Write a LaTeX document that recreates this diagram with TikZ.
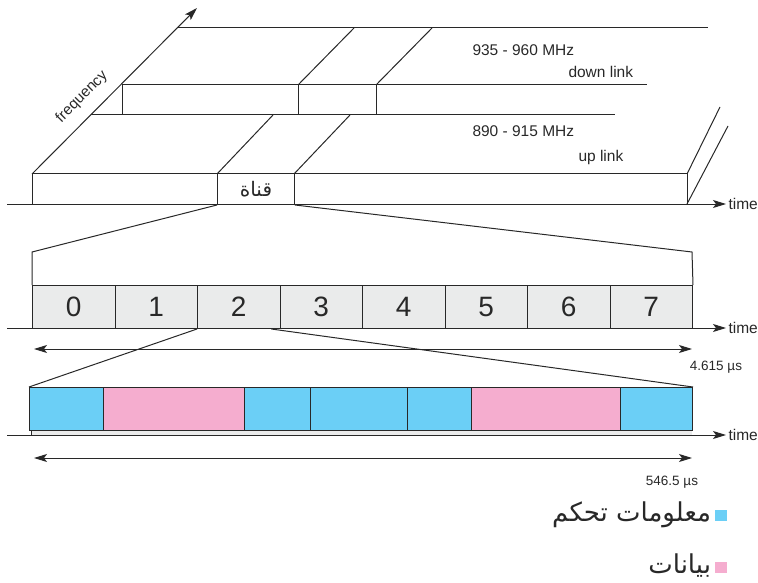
\documentclass[tikz,border=0pt]{standalone}
\definecolor{ctrlblue}{RGB}{107,207,246}
\definecolor{datapink}{RGB}{245,173,207}
\definecolor{slotgray}{RGB}{234,235,235}
\definecolor{linegray}{RGB}{40,40,40}
\usepackage{fontspec}
\setmainfont{Liberation Sans}
\newfontfamily\arabicfont[Script=Arabic]{DejaVu Sans}
\TeXXeTstate=1
\usepackage{tikz}
\usetikzlibrary{shapes,arrows,arrows.meta,positioning,calc}

\tikzset{
  bigtip/.style={-{Stealth[length=13pt,width=8pt,inset=3pt]}},
  twotip/.style={{Stealth[length=13pt,width=8pt,inset=3pt]}-{Stealth[length=13pt,width=8pt,inset=3pt]}},
  lbl/.style={font=\fontsize{15.5}{15.5}\selectfont, inner sep=0pt, anchor=west},
  smalllbl/.style={font=\fontsize{13.5}{13.5}\selectfont, inner sep=0pt},
  slot/.style={draw, fill=slotgray, minimum width=82.5pt, minimum height=43pt,
               inner sep=0pt, anchor=north west, font=\fontsize{28}{28}\selectfont},
  keybox/.style={minimum width=12pt, minimum height=11pt, inner sep=0pt},
  keytext/.style={anchor=base east, inner sep=0pt, font=\arabicfont\fontsize{26}{26}\selectfont}
}

\begin{document}
\begin{tikzpicture}[x=1pt, y=-1pt, line width=1pt, color=linegray]
  \useasboundingbox (0,0) rectangle (758,583);

  % frequency bands
  \draw (32,174) rectangle (687,204);
  \draw (91,115) -- (615,115);
  \draw (217,174) -- (217,204) (294,174) -- (294,204);
  \draw (217,174) -- (273,115) (294,174) -- (350,115);
  \draw (687,174) -- (720,107) (687,204) -- (728,126);
  \draw (122,115) -- (122,85) -- (647,85);
  \draw (298,85) -- (298,115) (376,85) -- (376,115);
  \draw (298,85) -- (354,28) (376,85) -- (432,28);
  \draw (178,28) -- (708,28);
  \node[lbl] (dlf) at (472,50) {935 - 960 MHz};
  \node[lbl] (dl) at (568,72) {down link};
  \node[lbl] (ulf) at (472,131) {890 - 915 MHz};
  \node[lbl] (ul) at (578,157) {up link};
  \node[minimum width=77pt, minimum height=30pt, inner sep=0pt, anchor=north west,
        font=\arabicfont\fontsize{20}{20}\selectfont] (ch) at (217,174) {\beginR قناة\endR};

  % frequency axis
  \coordinate (f0) at (32,174);
  \coordinate (f1) at (197,8);
  \draw[bigtip] (f0) -- (f1);
  \node[font=\fontsize{15}{15}\selectfont, rotate=45] (freq) at (82,97) {frequency};

  % time axes
  \foreach \y/\n in {204/a, 328/b, 435/c} {
    \coordinate (ax\n) at (7,\y);
    \coordinate (tip\n) at (726,\y);
    \draw[bigtip] (ax\n) -- (tip\n) node[right, inner sep=2pt, font=\fontsize{15.5}{15.5}\selectfont] {time};
  }

  % eight slots
  \foreach \i in {0,...,7}
    \node[slot] (s\i) at ({32+82.5*\i},285) {\i};
  \coordinate (fL) at (32,252);
  \coordinate (fR) at (692,252);
  \draw (ch.south west) -- (fL) -- (s0.north west);
  \draw (ch.south east) -- (fR) -- (s7.north east);

  \coordinate (d1a) at (34,349);
  \coordinate (d1b) at (692,349);
  \draw[twotip] (d1a) -- (d1b);
  \node[smalllbl] (t1) at (716,367) {4.615 µs};

  % burst
  \fill[slotgray] (31,430) rectangle (692,435);
  \draw (31,430) -- (31,435);
  \foreach \a/\b/\c in {29/103/ctrlblue, 103/244/datapink, 244/310/ctrlblue, 310/407/ctrlblue,
                        407/471/ctrlblue, 471/620/datapink, 620/692/ctrlblue}
    \draw[fill=\c] (\a,387) rectangle (\b,430);
  \node[draw, minimum width=663pt, minimum height=43pt, inner sep=0pt, anchor=north west] (burst) at (29,387) {};
  \coordinate (s2r) at ($(s2.south west)!0.89!(s2.south east)$);
  \draw (s2.south west) -- (burst.north west);
  \draw (s2r) -- (burst.north east);

  \coordinate (d2a) at (34,458);
  \coordinate (d2b) at (692,458);
  \draw[twotip] (d2a) -- (d2b);
  \node[smalllbl] (t2) at (672,482) {546.5 µs};

  % key
  \node[keybox, fill=ctrlblue] (kc) at (721,515) {};
  \node[keytext] (kct) at ([xshift=-3pt]kc.south west) {\beginR معلومات تحكم\endR};
  \node[keybox, fill=datapink] (kd) at (721,567) {};
  \node[keytext] (kdt) at ([xshift=-3pt]kd.south west) {\beginR بيانات\endR};
\end{tikzpicture}
\end{document}
